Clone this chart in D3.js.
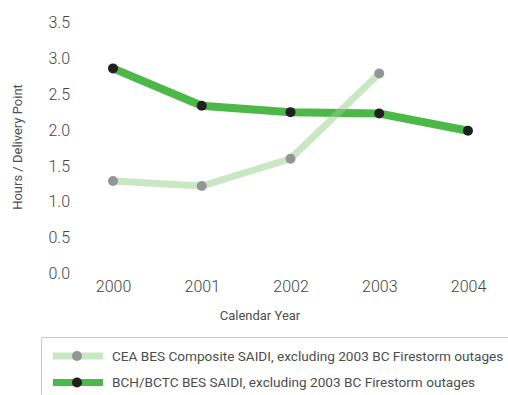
<!DOCTYPE html>
<html>
<head>
<meta charset="utf-8">
<script src="https://cdn.jsdelivr.net/npm/d3@7"></script>
<style>
  html, body { margin: 0; padding: 0; background: #fff; }
  svg { display: block; }
  text { font-family: Roboto, "Noto Sans", sans-serif; }
</style>
</head>
<body>
<svg id="chart" width="508" height="395"></svg>
<script>
const years = ["2000", "2001", "2002", "2003", "2004"];
const ceaValues = [1.29, 1.22, 1.60, 2.79];
const bchValues = [2.86, 2.34, 2.25, 2.23, 1.99];
const yTicks = [0, 0.5, 1.0, 1.5, 2.0, 2.5, 3.0, 3.5];
const seriesNames = [
  "CEA BES Composite SAIDI, excluding 2003 BC Firestorm outages",
  "BCH/BCTC BES SAIDI, excluding 2003 BC Firestorm outages"
];
const xTitle = "Calendar Year";
const yTitle = "Hours / Delivery Point";

const svg = d3.select("#chart");
const x = d3.scalePoint().domain(years).range([113, 468]);
const y = d3.scaleLinear().domain([0, 3.5]).range([273.5, 22.5]);

// Y axis
const yAxis = svg.append("g").attr("transform", "translate(73,0)")
  .call(d3.axisLeft(y).tickValues(yTicks).tickFormat(d3.format(".1f")).tickSize(0).tickPadding(3));
yAxis.select(".domain").remove();
yAxis.selectAll("text").attr("font-size", 16).attr("font-weight", 300).attr("fill", "#444")
  .style("font-family", "Roboto, sans-serif");

// X axis
const xAxis = svg.append("g").attr("transform", "translate(0,273.5)")
  .call(d3.axisBottom(x).tickSize(0).tickPadding(7));
xAxis.select(".domain").remove();
xAxis.selectAll("text").attr("font-size", 16).attr("font-weight", 300).attr("fill", "#444")
  .style("font-family", "Roboto, sans-serif");

// Titles
svg.append("text").attr("x", 260).attr("y", 319.5).attr("text-anchor", "middle")
  .attr("font-size", 13).attr("fill", "#4d4d4d").text(xTitle);
svg.append("text").attr("transform", "translate(22,147) rotate(-90)").attr("text-anchor", "middle")
  .attr("font-size", 13).attr("fill", "#4d4d4d").text(yTitle);

const series = [
  { name: seriesNames[0], values: ceaValues, line: "#93cf85", opacity: 0.5, width: 7, dot: "#939598" },
  { name: seriesNames[1], values: bchValues, line: "#4cb848", opacity: 1, width: 8, dot: "#231f20" }
];

const line = d3.line().x((d, i) => x(years[i])).y(d => y(d));

// draw BCH first, CEA (translucent) on top
[series[1], series[0]].forEach(s => {
  svg.append("path").datum(s.values).attr("d", line)
    .attr("fill", "none").attr("stroke", s.line).attr("stroke-width", s.width)
    .attr("stroke-opacity", s.opacity).attr("stroke-linejoin", "miter");
});
series.forEach(s => {
  svg.append("g").selectAll("circle").data(s.values).join("circle")
    .attr("cx", (d, i) => x(years[i])).attr("cy", d => y(d)).attr("r", 5).attr("fill", s.dot);
});

// Legend
const lg = svg.append("g");
lg.append("path").attr("d", "M41.5,395 V337.5 H508").attr("fill", "none").attr("stroke", "#c8c8c8").attr("stroke-width", 1);
series.forEach((s, i) => {
  const cy = 356 + i * 26.5;
  lg.append("line").attr("x1", 53).attr("x2", 103).attr("y1", cy).attr("y2", cy)
    .attr("stroke", s.line).attr("stroke-opacity", s.opacity).attr("stroke-width", 7);
  lg.append("circle").attr("cx", 77).attr("cy", cy).attr("r", 5).attr("fill", s.dot);
  lg.append("text").attr("x", 112).attr("y", cy + 4.8).attr("font-size", 13.6).attr("fill", "#4d4d4d").text(s.name);
});
</script>
</body>
</html>
